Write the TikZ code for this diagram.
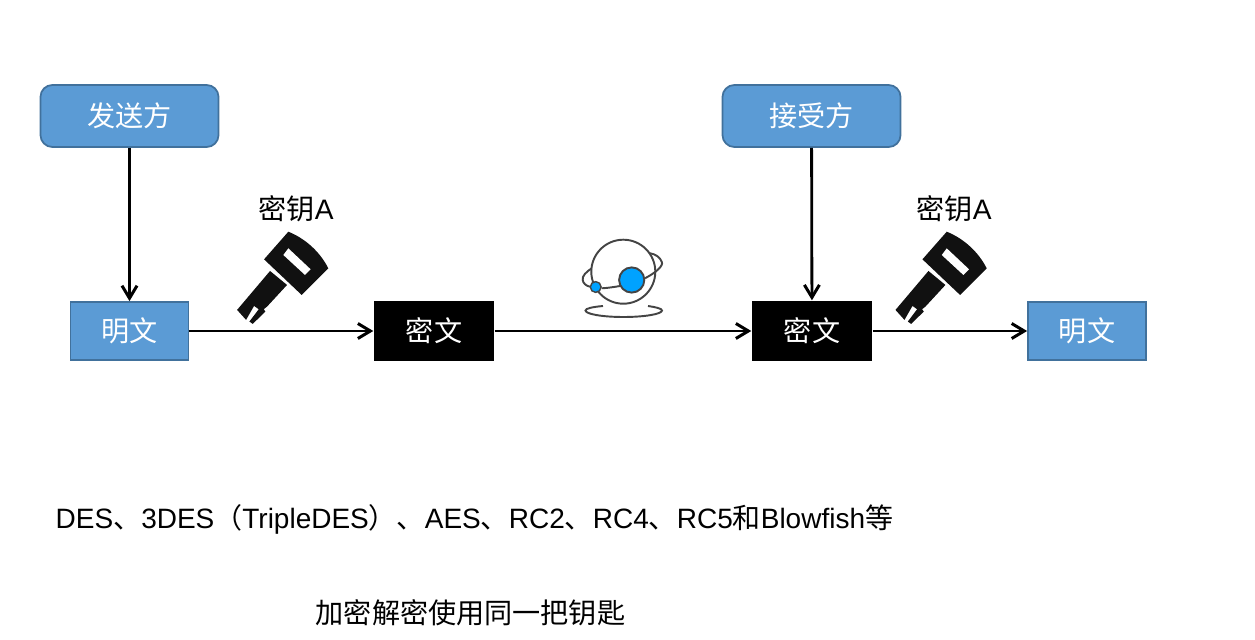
\documentclass[tikz,border=0pt]{standalone}
\usepackage{fontspec}
\setmainfont{Liberation Sans}
\newfontfamily\cjk{Noto Sans CJK SC}
\usetikzlibrary{arrows.meta}
\definecolor{boxblue}{HTML}{5B9BD5}
\definecolor{boxline}{HTML}{41719C}
\definecolor{keyblack}{HTML}{111111}
\definecolor{orbitblue}{HTML}{00A2FF}
\definecolor{orbitgray}{HTML}{444444}
\tikzset{
  every node/.style={font=\fontsize{8}{10}\selectfont\cjk, inner sep=0pt},
  party/.style={draw=boxline, line width=0.5pt, fill=boxblue, text=white, rounded corners=0.12cm, minimum width=1.78cm, minimum height=0.62cm},
  plainbox/.style={draw=boxline, line width=0.5pt, fill=boxblue, text=white, minimum width=1.18cm, minimum height=0.58cm},
  cipherbox/.style={fill=black, text=white, minimum width=1.2cm, minimum height=0.6cm},
  flow/.style={line width=0.8pt, -{Straight Barb[length=1.25mm, width=1.5mm, line width=0.85pt]}},
  orbit/.style={draw=orbitgray, line width=0.55pt},
  pics/carkey/.style={code={
    \fill[keyblack] (205,125) .. controls (255,145) and (300,185) .. (325,235)
      -- (245,315) -- (132,208) -- cycle;
    \fill[white] (205,175) -- (272,238) -- (255,255) -- (190,195) -- cycle;
    \fill[keyblack] (150,243) -- (201,285) -- (141,350) -- (131,358) -- (136,365) -- (98,402)
      -- (88,395) -- (116,358) -- (102,348) -- (78,390) -- (51,360) -- cycle;
  }}
}
\begin{document}
\begin{tikzpicture}[x=0.01cm, y=-0.01cm]
  \useasboundingbox (0,0) rectangle (1255,640);
  \node[party] (sender) at (129.5,116) {发送方};
  \node[party] (receiver) at (811.5,116) {接受方};
  \node[plainbox] (plainA) at (129.5,331) {明文};
  \node[cipherbox] (cipherA) at (434,331) {密文};
  \node[cipherbox] (cipherB) at (812,331) {密文};
  \node[plainbox] (plainB) at (1087,331) {明文};
  \node (keyA) at (296,209) {密钥{\rmfamily A}};
  \node (keyB) at (954,209) {密钥{\rmfamily A}};
  \node[anchor=west, font=\fontsize{7.96}{10}\selectfont] (algos) at (55,519) {DES{\cjk 、}3DES{\cjk （}TripleDES{\cjk ）、}AES{\cjk 、}RC2{\cjk 、}RC4{\cjk 、}RC5{\cjk 和}Blowfish{\cjk 等}};
  \node (rule) at (470.5,613) {加密解密使用同一把钥匙};

  \draw[flow] (sender) -- (plainA);
  \draw[flow] (receiver) -- (cipherB);
  \draw[flow] (plainA) -- (cipherA);
  \draw[flow] (cipherA) -- (cipherB);
  \draw[flow] (cipherB) -- (plainB);

  \pic[x=0.00333cm, y=-0.00333cm, xshift=2.2cm, yshift=-1.9cm] {carkey};
  \pic[x=0.00333cm, y=-0.00333cm, xshift=8.78cm, yshift=-1.9cm] {carkey};

  \draw[orbit] (623.3,271.7) circle (32);
  \draw[orbit] (601.7,288.3) .. controls (608,288) and (614,287) .. (620,286);
  \draw[orbit] (645,278.3) .. controls (655,273) and (664,266) .. (661.7,261.7) .. controls (660,257) and (655,254) .. (650,253.3);
  \draw[orbit] (591.7,268.3) .. controls (586,272) and (582,276) .. (582.7,280) .. controls (583,283) and (586,286) .. (590,286.7);
  \fill[orbitblue, draw=orbitgray, line width=0.55pt] (631.7,280) circle (12.6);
  \fill[orbitblue, draw=orbitgray, line width=0.4pt] (595.7,287) circle (5.4);
  \draw[orbit] (603,306) .. controls (592,307) and (585.5,308.5) .. (585.5,310.5) .. controls (585.5,314) and (602,317) .. (623.5,317) .. controls (645,317) and (662,314) .. (662,310.5) .. controls (662,308.5) and (655,307) .. (648,306);
\end{tikzpicture}
\end{document}
